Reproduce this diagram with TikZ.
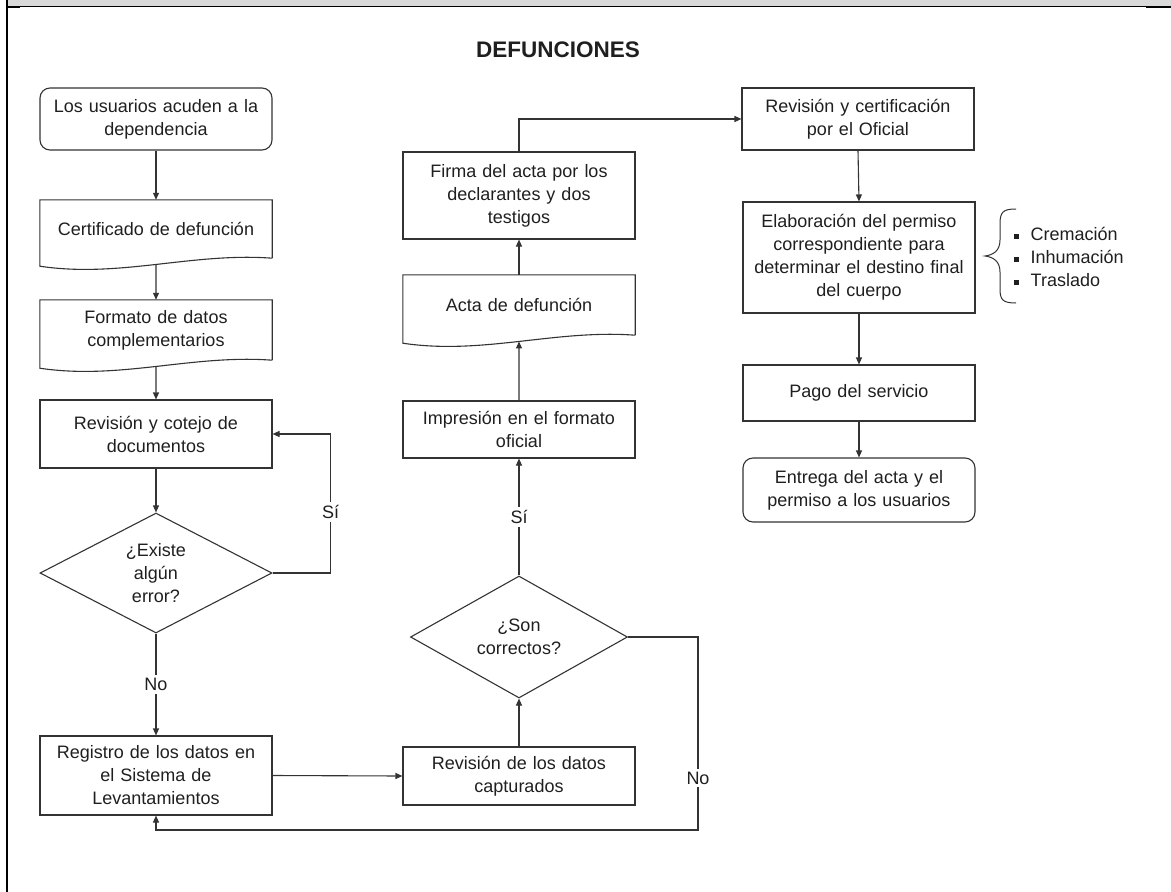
\documentclass[tikz,border=0pt]{standalone}
\usepackage{fontspec}
\setmainfont{Liberation Sans}
\usetikzlibrary{shapes.geometric,arrows.meta,calc}

\definecolor{ink}{HTML}{1F1F1F}
\definecolor{edgec}{HTML}{333333}
\definecolor{band}{HTML}{D9D9D9}

\tikzset{
  every node/.style={font=\fontsize{18}{23}\selectfont, text=ink},
  box/.style={draw=edgec, line width=1.1pt, minimum width=232pt, text width=224pt,
              align=center, inner sep=0pt},
  roundbox/.style={box, rounded corners=10pt},
  docbox/.style={minimum width=232pt, text width=224pt, align=center, inner sep=0pt},
  decision/.style={diamond, draw=edgec, line width=1.1pt, aspect=1.93,
                   align=center, inner sep=0pt},
  shapeline/.style={draw=edgec, line width=1.1pt},
  arr/.style={draw=edgec, line width=1.1pt, -{Triangle[length=7pt,width=6pt]}},
  lbl/.style={fill=white, inner sep=3pt},
}

% document symbol: straight top and sides, wavy bottom edge;
% #1-b marks the middle of the wave for incoming/outgoing connectors
\newcommand\docoutline[1]{%
  \draw[shapeline] (#1.south east) -- (#1.north east) -- (#1.north west)
    -- ($(#1.south west)+(0,8)$)
    .. controls ($(#1.south west)+(80,20)$) and ($(#1.south east)+(-80,-6)$)
    .. coordinate[pos=0.5] (#1-b) (#1.south east);}

\begin{document}
\begin{tikzpicture}[x=1pt,y=-1pt]
  \useasboundingbox (0,0) rectangle (1171,892);

  % page frame
  \fill[band] (8,0) rectangle (1171,5.5);
  \draw[black, line width=1.3pt] (8,6.2) -- (1146,6.2);
  \draw[black, line width=2.2pt] (8,7) -- (20,7);
  \draw[black, line width=2.6pt] (1146,7) -- (1171,7);
  \draw[black, line width=2.6pt] (6.8,0) -- (6.8,892);

  % title
  \node[font=\bfseries\fontsize{22.5}{26}\selectfont] (title) at (558,50) {DEFUNCIONES};

  % left column
  \node[roundbox, minimum height=62pt] (start) at (156,119)
    {Los usuarios acuden a la\\dependencia};
  \node[docbox, minimum height=58pt] (cert) at (156,229) {Certificado de defunción};
  \docoutline{cert}
  \node[docbox, minimum height=60pt] (form) at (156,330)
    {Formato de datos\\complementarios};
  \docoutline{form}
  \node[box, minimum height=68pt] (rev1) at (156,434)
    {Revisión y cotejo de\\documentos};
  \node[decision, minimum width=232pt, minimum height=120pt] (dec1) at (156,573)
    {¿Existe\\algún\\error?};
  \node[box, minimum height=79pt] (reg) at (156,775.5)
    {Registro de los datos en\\el Sistema de\\Levantamientos};

  % middle column
  \node[box, minimum height=58pt] (revd) at (519,776)
    {Revisión de los datos\\capturados};
  \node[decision, minimum width=217pt, minimum height=122pt] (dec2) at (519,637)
    {¿Son\\correctos?};
  \node[box, minimum height=57pt] (imp) at (519,429.5)
    {Impresión en el formato\\oficial};
  \node[docbox, minimum height=60pt] (acta) at (519,305) {Acta de defunción};
  \docoutline{acta}
  \node[box, minimum height=87pt] (firma) at (519,195.5)
    {Firma del acta por los\\declarantes y dos\\testigos};

  % right column
  \node[box, minimum height=62pt] (revc) at (858,119)
    {Revisión y certificación\\por el Oficial};
  \node[box, minimum height=111pt] (elab) at (859,257.5)
    {Elaboración del permiso\\correspondiente para\\determinar el destino final\\del cuerpo};
  \node[box, minimum height=56pt] (pago) at (859,393) {Pago del servicio};
  \node[roundbox, minimum height=64pt] (entrega) at (859,490)
    {Entrega del acta y el\\permiso a los usuarios};

  % options for the final destination
  \node[anchor=west, align=left, inner sep=0pt] (opts) at (1014,257)
    {\rule[2pt]{4.5pt}{4.5pt}\hspace{12pt}Cremación\\
     \rule[2pt]{4.5pt}{4.5pt}\hspace{12pt}Inhumación\\
     \rule[2pt]{4.5pt}{4.5pt}\hspace{12pt}Traslado};
  \draw[shapeline, line width=1pt] (1016,209) .. controls (1003,209) and (1000,212) .. (1000,224)
    -- (1000,240) .. controls (1000,251) and (993,255) .. (985,256)
    .. controls (993,257) and (1000,261) .. (1000,272)
    -- (1000,289) .. controls (1000,300) and (1003,303) .. (1016,303);

  % connectors, left column
  \draw[arr] (start.south) -- (cert.north);
  \draw[arr] (cert-b) -- (form.north);
  \draw[arr] (form-b) -- (rev1.north);
  \draw[arr] (rev1.south) -- (dec1.north);
  \draw[arr] (dec1.east) -- ++(58,0) |- node[lbl, pos=0.22] {Sí} (rev1.east);
  \draw[arr] (dec1.south) -- node[lbl] {No} (reg.north);
  \draw[arr] (reg.east) -- (revd.west);

  % connectors, middle column
  \coordinate (loopR) at (698,830);
  \draw[arr] (revd.north) -- (dec2.south);
  \draw[arr] (dec2.north) -- node[lbl] {Sí} (imp.south);
  \draw[arr] (dec2.east) -| node[lbl, pos=0.865] {No} (loopR) -| (reg.south);
  \draw[arr] (imp.north) -- (acta-b);
  \draw[arr] (acta.north) -- (firma.south);
  \draw[arr] (firma.north) |- (revc.west);

  % connectors, right column
  \draw[arr] (revc.south) -- (elab.north);
  \draw[arr] (elab.south) -- (pago.north);
  \draw[arr] (pago.south) -- (entrega.north);
\end{tikzpicture}
\end{document}
